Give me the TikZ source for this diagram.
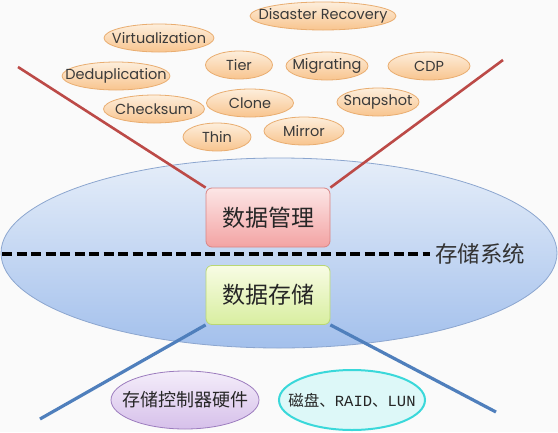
\documentclass[tikz,border=0pt]{standalone}
\usepackage{fontspec}
\setmainfont{Poppins}
\newfontfamily\cjk{Noto Sans CJK SC}
\newfontfamily\lunfont{Liberation Mono}
\usetikzlibrary{shapes.geometric}

\definecolor{tagtop}{HTML}{FDEEDC}
\definecolor{tagbot}{HTML}{F8C48E}
\definecolor{tagline}{HTML}{E9AD70}
\definecolor{tagtext}{HTML}{3A3A3A}
\definecolor{systop}{HTML}{E6EEF9}
\definecolor{sysbot}{HTML}{A3C0EC}
\definecolor{sysline}{HTML}{8CA6CF}
\definecolor{mgmttop}{HTML}{FCE6E6}
\definecolor{mgmtbot}{HTML}{F3A3A3}
\definecolor{mgmtline}{HTML}{D98585}
\definecolor{storetop}{HTML}{F8FCE4}
\definecolor{storebot}{HTML}{D8EEA0}
\definecolor{storeline}{HTML}{B9D774}
\definecolor{upline}{HTML}{BC4A47}
\definecolor{downline}{HTML}{4F7FBC}
\definecolor{ctrltop}{HTML}{F4EDFA}
\definecolor{ctrlbot}{HTML}{D6C0EA}
\definecolor{ctrlline}{HTML}{9C7CBE}
\definecolor{diskfill}{HTML}{DDF8F8}
\definecolor{diskline}{HTML}{3AD8DA}

\newcommand{\lbl}[1]{\makebox[0pt]{#1}}

\begin{document}
\begin{tikzpicture}[x=1pt,y=-1pt,
    tag/.style={ellipse,draw=tagline,line width=0.8pt,top color=tagtop,bottom color=tagbot,
      inner sep=0pt,minimum height=28pt,text=tagtext,font=\fontsize{14.5}{14.5}\selectfont},
    layer/.style={rounded corners=6pt,line width=0.8pt,minimum width=124pt,minimum height=59pt,
      text=black!85,font=\cjk\fontsize{23}{23}\selectfont},
    base/.style={ellipse,inner sep=0pt,minimum height=58pt,text=black!85},
    upconn/.style={draw=upline,line width=2.6pt},
    downconn/.style={draw=downline,line width=3.2pt}]
  \useasboundingbox[fill=black!2] (0,0) rectangle (558,432);
  % storage system
  \node[ellipse,draw=sysline,line width=0.8pt,top color=systop,bottom color=sysbot,
    inner sep=0pt,minimum width=556pt,minimum height=190pt] (system) at (279,253) {};
  % data management features
  \draw
    (323,16) node[tag,minimum width=146pt] (recov){\lbl{Disaster Recovery}}
    (159,38) node[tag,minimum width=110pt] (virt){\lbl{Virtualization}}
    (116,76) node[tag,minimum width=108pt] (dedup){\lbl{Deduplication}}
    (239,65) node[tag,minimum width=67pt] (tier){\lbl{Tier}}
    (327,66) node[tag,minimum width=82pt] (migr){\lbl{Migrating}}
    (429,66) node[tag,minimum width=82pt] (cdp){\lbl{CDP}}
    (154,109) node[tag,minimum width=101pt] (check){\lbl{Checksum}}
    (250,103) node[tag,minimum width=87pt] (clone){\lbl{Clone}}
    (378,102) node[tag,minimum width=82pt] (snap){\lbl{Snapshot}}
    (217,137) node[tag,minimum width=68pt] (thin){\lbl{Thin}}
    (304,131) node[tag,minimum width=80pt] (mirror){\lbl{Mirror}};
  \coordinate (ul) at (18,67);
  \coordinate (ur) at (503,60);
  \coordinate (dl) at (40,419);
  \coordinate (dr) at (496,412);
  \node[layer,draw=mgmtline,top color=mgmttop,bottom color=mgmtbot] (mgmt) at (268,217.5) {数据管理};
  \node[layer,draw=storeline,top color=storetop,bottom color=storebot] (store) at (268,295) {数据存储};
  \begin{scope}[-]
    \draw[upconn] (ul) to (mgmt.north west);
    \draw[upconn] (ur) to (mgmt.north east);
    \draw[downconn] (store.south west) to (dl);
    \draw[downconn] (store.south east) to (dr);
  \end{scope}
  \node[text=black!80,font=\cjk\fontsize{22.5}{22.5}\selectfont,inner sep=5pt] (syslbl) at (480,254) {存储系统};
  \coordinate (dash0) at (2,254);
  \draw[line width=3.6pt,dash pattern=on 10pt off 4.5pt] (dash0) -- (syslbl.west);
  % hardware
  \node[base,draw=ctrlline,line width=0.8pt,top color=ctrltop,bottom color=ctrlbot,minimum width=148pt,
    font=\cjk\fontsize{18}{18}\selectfont] (ctrl) at (185,400) {\lbl{存储控制器硬件}};
  \node[base,draw=diskline,line width=2pt,fill=diskfill,minimum width=146pt,minimum height=60pt,
    font=\fontsize{15.5}{15.5}\selectfont] (disk) at (352,400)
    {\lbl{{\cjk 磁盘、}{\lunfont RAID}{\cjk 、}{\lunfont LUN}}};
\end{tikzpicture}
\end{document}
